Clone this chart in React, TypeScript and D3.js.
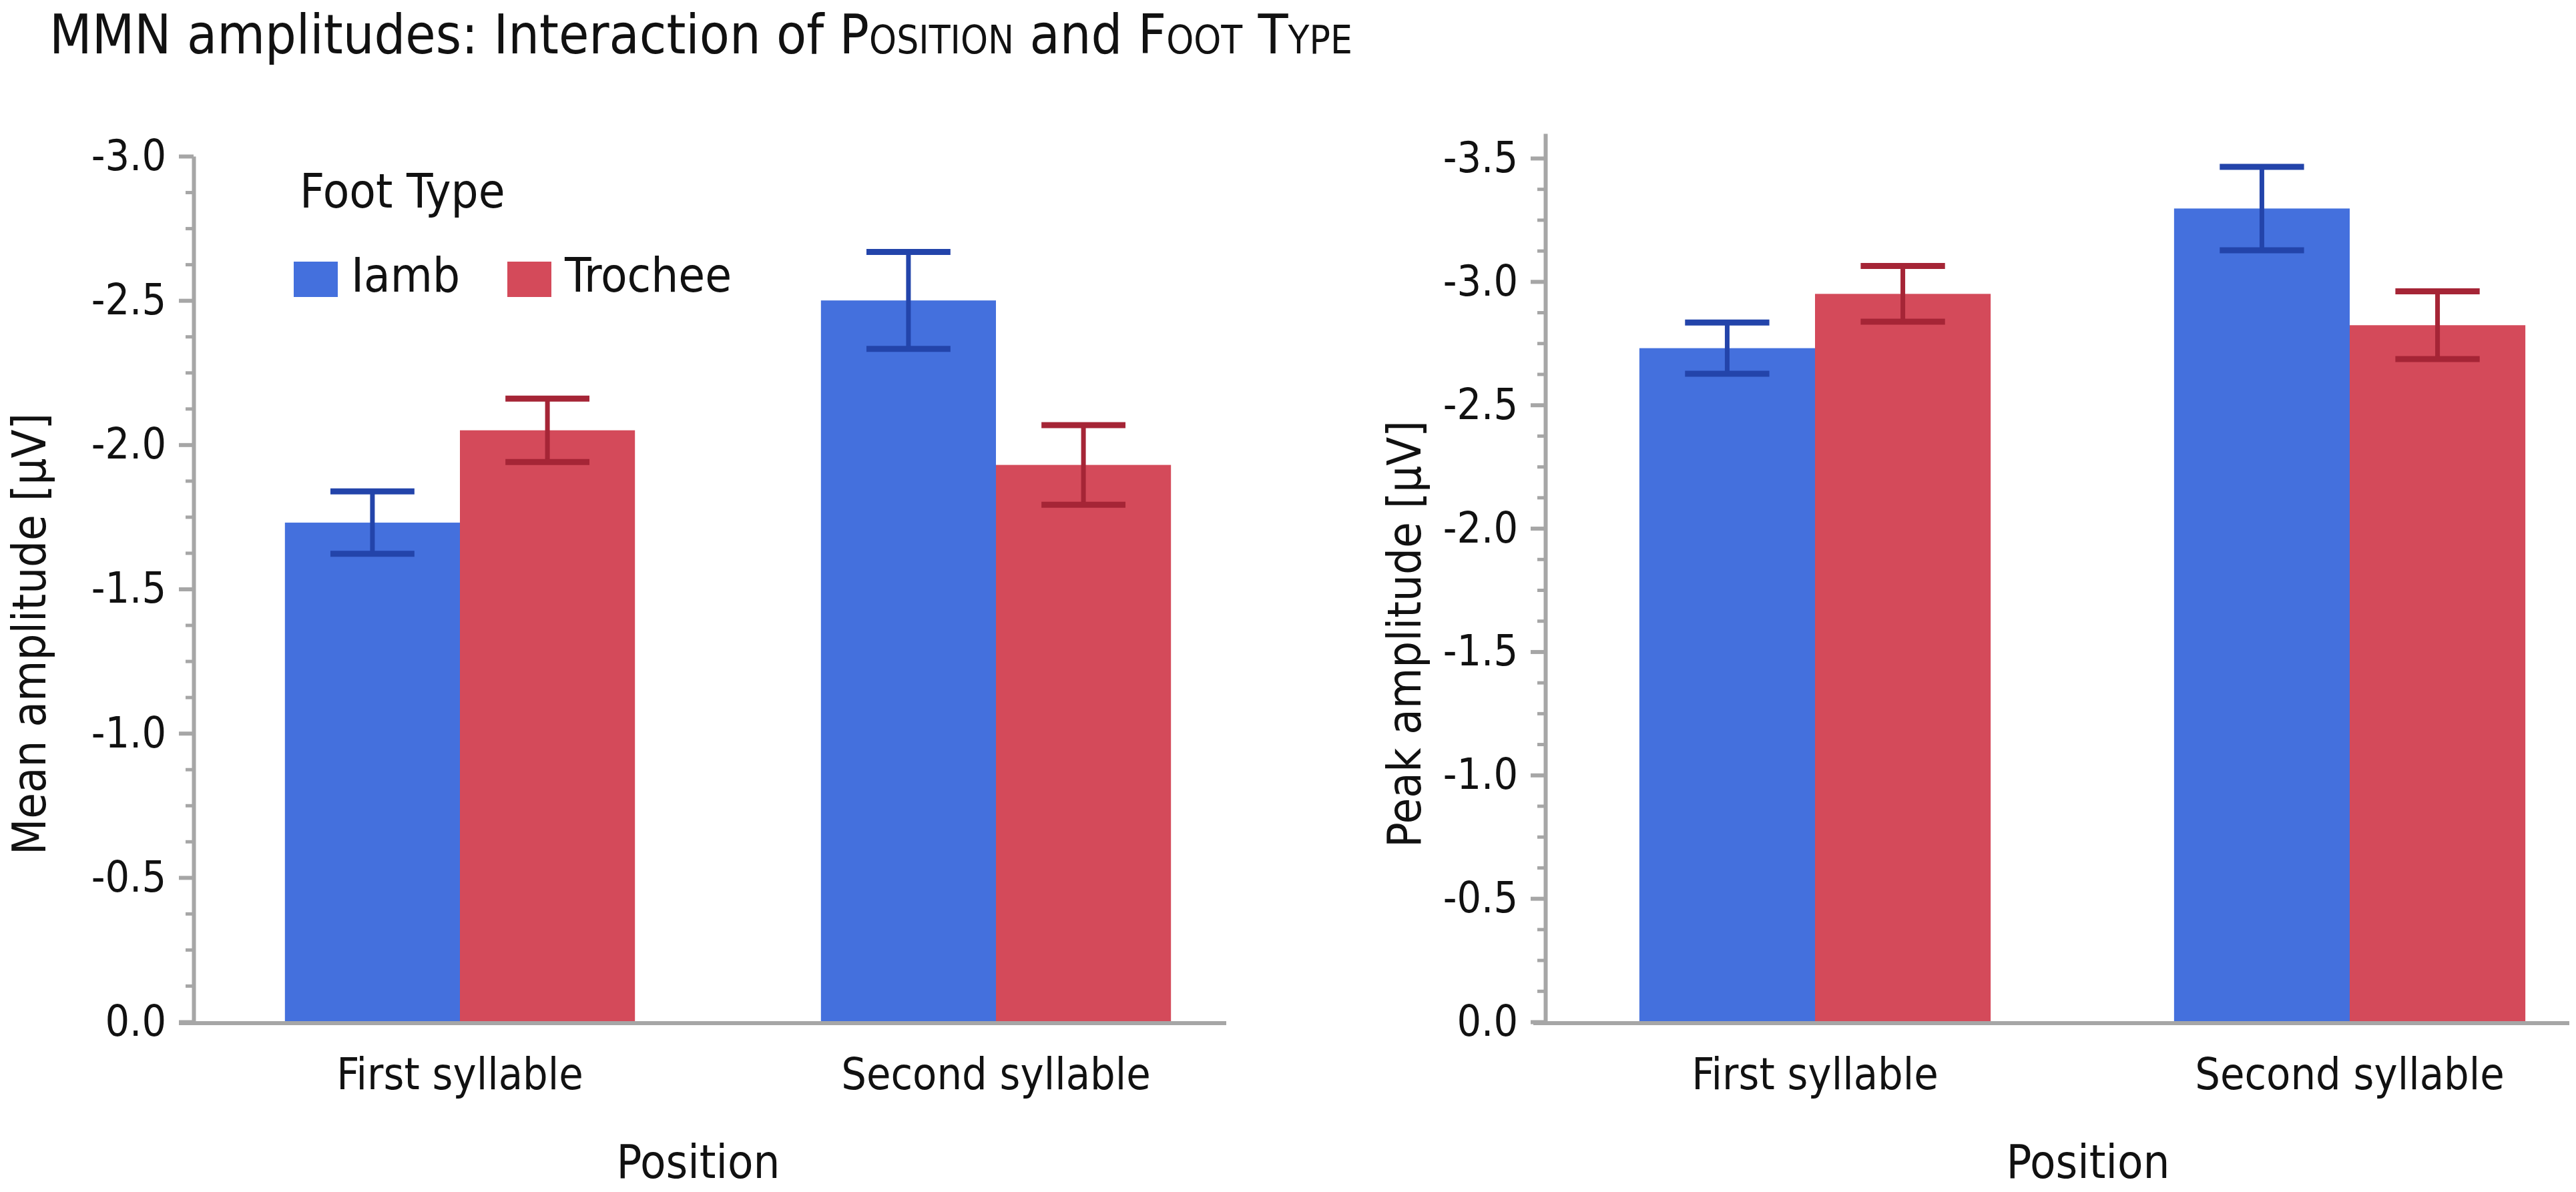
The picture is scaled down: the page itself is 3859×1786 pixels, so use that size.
import { useEffect, useRef } from 'react';
import * as d3 from 'd3';

// data (amplitudes in µV, error = half bar length)
const positions = ['First syllable', 'Second syllable'];
const footTypes = ['Iamb', 'Trochee'];

const meanIamb = [-1.73, -2.5];
const meanIambErr = [0.108, 0.168];
const meanTrochee = [-2.05, -1.93];
const meanTrocheeErr = [0.11, 0.138];

const peakIamb = [-2.73, -3.296];
const peakIambErr = [0.104, 0.169];
const peakTrochee = [-2.95, -2.823];
const peakTrocheeErr = [0.113, 0.137];

const meanTicks = [0, -0.5, -1.0, -1.5, -2.0, -2.5, -3.0];
const peakTicks = [0, -0.5, -1.0, -1.5, -2.0, -2.5, -3.0, -3.5];

const barColors = ['#4470dd', '#d44a5a'];
const errColors = ['#2344aa', '#a52536'];
const AXIS = '#a6a6a6';
const FONT = "'Liberation Sans Narrow', 'DejaVu Sans Condensed', 'Noto Sans', sans-serif";

export default function App() {
  const svgRef = useRef<SVGSVGElement>(null);

  useEffect(() => {
    if (!svgRef.current) return;
    const svg = d3.select(svgRef.current);
    svg.selectAll('*').remove();

    const baseY = 1531;

    const panels = [
      {
        label: 'Mean amplitude [μV]',
        series: [meanIamb, meanTrochee],
        errs: [meanIambErr, meanTrocheeErr],
        ticks: meanTicks,
        yTop: -3.0,
        yTopPx: 234,
        axisX: 290,
        bandRange: [287.5, 1893.5],
        pad: 0.347,
        xLine: [268, 1837],
        labelX: 68,
        positionX: 1046,
        legend: true,
      },
      {
        label: 'Peak amplitude [μV]',
        series: [peakIamb, peakTrochee],
        errs: [peakIambErr, peakTrocheeErr],
        ticks: peakTicks,
        yTop: -3.6,
        yTopPx: 200,
        axisX: 2315,
        bandRange: [2318.5, 3920.5],
        pad: 0.343,
        xLine: [2297, 3849],
        labelX: 2128,
        positionX: 3128,
        legend: false,
      },
    ];

    // 标题 (small caps done with smaller tspans)
    const title = svg
      .append('text')
      .attr('x', 74)
      .attr('y', 80)
      .style('font-size', '82px')
      .attr('fill', '#111');
    const parts: [string, boolean][] = [
      ['MMN amplitudes: Interaction of ', false],
      ['P', false],
      ['OSITION', true],
      [' and ', false],
      ['F', false],
      ['OOT', true],
      [' T', false],
      ['YPE', true],
    ];
    parts.forEach(([t, small]) => {
      title
        .append('tspan')
        .style('font-size', small ? '58px' : '82px')
        .text(t);
    });

    panels.forEach((p) => {
      const y = d3.scaleLinear().domain([0, p.yTop]).range([baseY, p.yTopPx]);
      const x0 = d3
        .scaleBand()
        .domain(positions)
        .range(p.bandRange as [number, number])
        .paddingInner(p.pad)
        .paddingOuter(p.pad / 2);
      const x1 = d3.scaleBand().domain(footTypes).range([0, x0.bandwidth()]);

      const g = svg.append('g');

      // bars
      positions.forEach((pos, i) => {
        footTypes.forEach((ft, j) => {
          const v = p.series[j][i];
          g.append('rect')
            .attr('x', (x0(pos) ?? 0) + (x1(ft) ?? 0))
            .attr('y', y(v))
            .attr('width', x1.bandwidth())
            .attr('height', y(0) - y(v))
            .attr('fill', barColors[j]);
        });
      });

      // error bars
      positions.forEach((pos, i) => {
        footTypes.forEach((ft, j) => {
          const v = p.series[j][i];
          const e = p.errs[j][i];
          const cx = (x0(pos) ?? 0) + (x1(ft) ?? 0) + x1.bandwidth() / 2;
          const capW = x1.bandwidth() * 0.24;
          const eg = g.append('g').attr('stroke', errColors[j]);
          eg.append('line')
            .attr('x1', cx)
            .attr('x2', cx)
            .attr('y1', y(v - e))
            .attr('y2', y(v + e))
            .attr('stroke-width', 7);
          [v - e, v + e].forEach((c) => {
            eg.append('line')
              .attr('x1', cx - capW)
              .attr('x2', cx + capW)
              .attr('y1', y(c))
              .attr('y2', y(c))
              .attr('stroke-width', 9);
          });
        });
      });

      // y axis: minor ticks every 0.125
      const minors = d3
        .range(0, p.yTop - 1e-9, -0.125)
        .filter((t) => Math.abs(t / 0.5 - Math.round(t / 0.5)) > 1e-6);
      const minorAxis = g
        .append('g')
        .attr('transform', `translate(${p.axisX},0)`)
        .call(d3.axisLeft(y).tickValues(minors).tickSize(12).tickFormat(() => ''));
      minorAxis.select('.domain').remove();
      minorAxis.selectAll('line').attr('stroke', AXIS).attr('stroke-width', 5);

      const yAxis = g
        .append('g')
        .attr('transform', `translate(${p.axisX},0)`)
        .call(
          d3
            .axisLeft(y)
            .tickValues(p.ticks)
            .tickSize(22)
            .tickSizeOuter(0)
            .tickPadding(19)
            .tickFormat((d) => (+d).toFixed(1).replace('-0.0', '0.0'))
        );
      yAxis.select('.domain').attr('stroke', AXIS).attr('stroke-width', 6);
      yAxis.selectAll('line').attr('stroke', AXIS).attr('stroke-width', 6);
      yAxis
        .selectAll('text')
        .attr('fill', '#111')
        .style('font-size', '64px')
        .style('font-family', FONT);

      // x axis
      g.append('line')
        .attr('x1', p.xLine[0])
        .attr('x2', p.xLine[1])
        .attr('y1', baseY + 2)
        .attr('y2', baseY + 2)
        .attr('stroke', AXIS)
        .attr('stroke-width', 6);
      const xAxis = g
        .append('g')
        .attr('transform', `translate(0,${baseY})`)
        .call(d3.axisBottom(x0).tickSize(0));
      xAxis.select('.domain').remove();
      xAxis
        .selectAll('text')
        .attr('y', 101)
        .attr('dy', 0)
        .attr('fill', '#111')
        .style('font-size', '66px')
        .style('font-family', FONT);

      g.append('text')
        .attr('x', p.positionX)
        .attr('y', 1765)
        .attr('text-anchor', 'middle')
        .style('font-size', '70px')
        .attr('fill', '#111')
        .text('Position');

      g.append('text')
        .attr('transform', `translate(${p.labelX},950) rotate(-90)`)
        .attr('text-anchor', 'middle')
        .style('font-size', '70px')
        .attr('fill', '#111')
        .text(p.label);

      if (p.legend) {
        const lg = g.append('g');
        lg.append('text')
          .attr('x', 449)
          .attr('y', 311)
          .style('font-size', '72px')
          .attr('fill', '#111')
          .text('Foot Type');
        const itemX = [440, 760];
        footTypes.forEach((ft, j) => {
          lg.append('rect')
            .attr('x', itemX[j])
            .attr('y', 392)
            .attr('width', 66)
            .attr('height', 53)
            .attr('fill', barColors[j]);
          lg.append('text')
            .attr('x', itemX[j] + 86)
            .attr('y', 437)
            .style('font-size', '72px')
            .attr('fill', '#111')
            .text(ft);
        });
      }
    });
  }, []);

  return (
    <svg
      ref={svgRef}
      width={3859}
      height={1786}
      style={{
        position: 'absolute',
        left: 0,
        top: 0,
        background: '#fff',
        fontFamily: FONT,
        fontStretch: 'condensed',
      }}
    />
  );
}
